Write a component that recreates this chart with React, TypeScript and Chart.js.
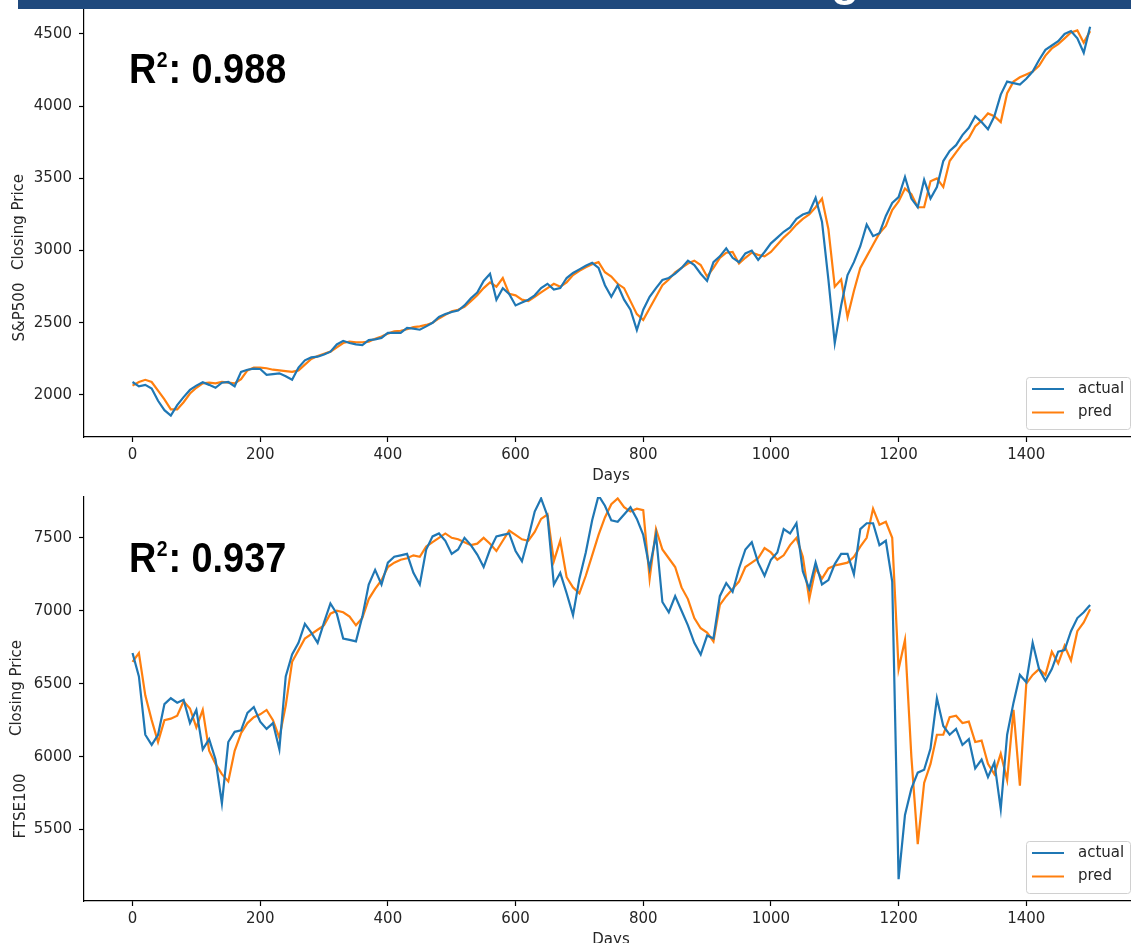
import React, { useEffect, useRef } from 'react';
import { Chart, registerables } from 'chart.js';

Chart.register(...registerables);

// ---------------- data ----------------
const DAYS = [
  0, 10, 20, 30, 40, 50, 60, 70, 80, 90,
  100, 110, 120, 130, 140, 150, 160, 170, 180, 190,
  200, 210, 220, 230, 240, 250, 260, 270, 280, 290,
  300, 310, 320, 330, 340, 350, 360, 370, 380, 390,
  400, 410, 420, 430, 440, 450, 460, 470, 480, 490,
  500, 510, 520, 530, 540, 550, 560, 570, 580, 590,
  600, 610, 620, 630, 640, 650, 660, 670, 680, 690,
  700, 710, 720, 730, 740, 750, 760, 770, 780, 790,
  800, 810, 820, 830, 840, 850, 860, 870, 880, 890,
  900, 910, 920, 930, 940, 950, 960, 970, 980, 990,
  1000, 1010, 1020, 1030, 1040, 1050, 1060, 1070, 1080, 1090,
  1100, 1110, 1120, 1130, 1140, 1150, 1160, 1170, 1180, 1190,
  1200, 1210, 1220, 1230, 1240, 1250, 1260, 1270, 1280, 1290,
  1300, 1310, 1320, 1330, 1340, 1350, 1360, 1370, 1380, 1390,
  1400, 1410, 1420, 1430, 1440, 1450, 1460, 1470, 1480, 1490,
  1500,
];

const SP_ACTUAL = [
  2090, 2060, 2070, 2045, 1960, 1895, 1858, 1930, 1985, 2035,
  2065, 2088, 2070, 2050, 2085, 2090, 2060, 2160, 2175, 2182,
  2180, 2140, 2145, 2150, 2130, 2105, 2190, 2240, 2260, 2265,
  2280, 2300, 2350, 2375, 2360, 2350, 2345, 2380, 2385, 2395,
  2430, 2430, 2430, 2465, 2460, 2452, 2475, 2500, 2540, 2560,
  2575, 2585, 2620, 2670, 2710, 2790, 2840, 2660, 2740, 2700,
  2620, 2640, 2660, 2690, 2740, 2770, 2730, 2740, 2810, 2845,
  2870, 2895, 2915, 2880, 2760, 2680, 2760, 2660, 2590, 2450,
  2590, 2680, 2740, 2796, 2810, 2840, 2880, 2930, 2900, 2840,
  2790, 2920, 2960, 3015, 2950, 2920, 2980, 3000, 2935, 2990,
  3050, 3090, 3130, 3160, 3220, 3250, 3265, 3365, 3200, 2800,
  2360, 2620, 2830, 2920, 3030, 3180, 3100, 3120, 3240, 3330,
  3370, 3510, 3360, 3300, 3490, 3360, 3440, 3620, 3690, 3730,
  3800, 3850, 3930, 3890, 3840, 3930, 4080, 4170, 4160, 4150,
  4190, 4240, 4320, 4390, 4420, 4450, 4500, 4520, 4470, 4370,
  4550,
];

const SP_PRED = [
  2065, 2090, 2105, 2090, 2030, 1970, 1900, 1900, 1950, 2010,
  2050, 2080, 2085, 2080, 2090, 2085, 2080, 2110, 2170, 2190,
  2190, 2185, 2175, 2170, 2165, 2160, 2170, 2210, 2250, 2270,
  2285, 2300, 2330, 2360, 2370, 2365, 2365, 2370, 2390, 2405,
  2425, 2440, 2445, 2455, 2470, 2475, 2485, 2500, 2530, 2555,
  2580, 2590, 2610, 2650, 2690, 2740, 2780, 2750, 2810, 2700,
  2690, 2660, 2650, 2680, 2710, 2740, 2770, 2750, 2780, 2830,
  2860, 2885, 2905, 2920, 2850, 2820, 2770, 2740, 2650, 2560,
  2520, 2600, 2680, 2760, 2800, 2850, 2880, 2910, 2930, 2900,
  2820, 2880, 2950, 2985, 2990, 2910, 2950, 2985, 2970, 2960,
  2990, 3040, 3090, 3130, 3180, 3220, 3250, 3300, 3360, 3150,
  2750, 2800, 2540, 2720, 2880, 2960, 3040, 3120, 3170, 3280,
  3340, 3430, 3390, 3300, 3300, 3480, 3500, 3440, 3620, 3680,
  3740, 3780, 3860, 3900, 3950, 3930, 3890, 4090, 4170, 4200,
  4220, 4240, 4280, 4350, 4400, 4430, 4470, 4510, 4525, 4440,
  4520,
];

const FTSE_ACTUAL = [
  6710, 6550, 6150, 6080, 6150, 6360, 6400, 6370, 6390, 6230,
  6320, 6050, 6120, 5980, 5680, 6100, 6170, 6180, 6300, 6340,
  6240, 6190, 6230, 6050, 6550, 6700, 6780, 6910, 6850, 6780,
  6920, 7050, 6980, 6810, 6800, 6790, 6960, 7180, 7280, 7180,
  7330, 7370, 7380, 7390, 7260, 7180, 7420, 7510, 7530, 7480,
  7390, 7420, 7500, 7450, 7385, 7300, 7420, 7510, 7520, 7530,
  7410, 7340, 7500, 7680, 7770, 7650, 7180, 7260, 7120, 6970,
  7220, 7400, 7620, 7790, 7720, 7620, 7610, 7660, 7710, 7630,
  7520, 7290, 7520, 7060, 6990, 7100, 7000, 6900, 6780, 6700,
  6830, 6810, 7100, 7190, 7130, 7290, 7420, 7470, 7330, 7240,
  7350, 7400, 7560, 7530, 7600, 7270, 7150, 7330, 7180, 7210,
  7320, 7390, 7390, 7250, 7560, 7600, 7600, 7450, 7480, 7200,
  5160, 5600, 5780, 5890, 5910, 6055, 6400, 6210, 6150, 6190,
  6080, 6120, 5920, 5980, 5860, 5960, 5640, 6150, 6370, 6560,
  6510, 6780, 6600, 6520, 6600, 6720, 6730, 6860, 6950, 6990,
  7040,
];

const FTSE_PRED = [
  6650, 6710, 6420, 6250, 6100, 6250, 6260, 6280, 6380, 6330,
  6200, 6320, 6040, 5950, 5880, 5830, 6040, 6160, 6230, 6270,
  6290, 6320, 6250, 6130, 6350, 6650, 6730, 6810, 6840, 6870,
  6900, 6980, 7000, 6990, 6960, 6900, 6950, 7080, 7150, 7210,
  7300, 7330, 7350, 7360, 7380, 7370, 7440, 7470, 7500, 7530,
  7500, 7490, 7470, 7450, 7460, 7500, 7460, 7410, 7480, 7550,
  7520, 7490, 7480, 7540, 7630, 7660, 7340, 7480, 7230, 7160,
  7120, 7240, 7380, 7520, 7640, 7730, 7770, 7710, 7680, 7700,
  7690, 7220, 7560, 7420, 7360, 7300, 7160, 7080, 6950, 6880,
  6850, 6790, 7040, 7100, 7150, 7200, 7300, 7330, 7360, 7430,
  7400, 7350, 7380, 7450, 7500, 7370, 7080, 7290, 7220, 7290,
  7310, 7320, 7330, 7370, 7440, 7500, 7700, 7590, 7610, 7500,
  6600, 6800, 6000, 5400, 5820, 5950, 6150, 6150, 6270, 6280,
  6230, 6240, 6100, 6110, 5950, 5880, 6020, 5840, 6320, 5800,
  6500, 6560, 6600, 6560, 6720, 6640, 6760, 6660, 6860, 6920,
  7010,
];

const X_TICKS = [0, 200, 400, 600, 800, 1000, 1200, 1400];
const SP_Y_TICKS = [2000, 2500, 3000, 3500, 4000, 4500];
const FTSE_Y_TICKS = [5500, 6000, 6500, 7000, 7500];
const SERIES_NAMES = ['actual', 'pred'];
const SERIES_COLORS = ['#1f77b4', '#ff7f0e'];

const TICK_FONT = '"DejaVu Sans", "Liberation Sans", sans-serif';
const TEXT_COLOR = '#262626';

type PanelCfg = {
  actual: number[];
  pred: number[];
  yTicks: number[];
  yMin: number;
  yMax: number;
  yLabels: { text: string; x: number; y: number }[];
  r2: string;
  r2Baseline: number;
  padTop: number;
  height: number;
  banner: boolean;
};

function drawR2(ctx: CanvasRenderingContext2D, x: number, baseline: number, value: string) {
  ctx.save();
  ctx.translate(x, baseline);
  ctx.scale(0.88, 1);
  ctx.fillStyle = '#000';
  ctx.textAlign = 'left';
  ctx.textBaseline = 'alphabetic';
  ctx.font = 'bold 43px "Liberation Sans", Arial, sans-serif';
  ctx.fillText('R', 0, 0);
  let cx = ctx.measureText('R').width;
  ctx.font = 'bold 22px "Liberation Sans", Arial, sans-serif';
  ctx.fillText('2', cx + 0.5, -16);
  cx += ctx.measureText('2').width + 1.5;
  ctx.font = 'bold 43px "Liberation Sans", Arial, sans-serif';
  ctx.fillText(': ' + value, cx, 0);
  ctx.restore();
}

function makeOverlay(cfg: PanelCfg) {
  return {
    id: 'overlay',
    afterDraw(chart: any) {
      const ctx: CanvasRenderingContext2D = chart.ctx;
      const ca = chart.chartArea;
      ctx.save();
      // rotated y labels
      ctx.font = `15px ${TICK_FONT}`;
      ctx.fillStyle = TEXT_COLOR;
      ctx.textAlign = 'center';
      ctx.textBaseline = 'middle';
      cfg.yLabels.forEach((l) => {
        ctx.save();
        ctx.translate(l.x, l.y);
        ctx.rotate(-Math.PI / 2);
        ctx.fillText(l.text, 0, 0);
        ctx.restore();
      });
      // R^2 annotation
      drawR2(ctx, 129, cfg.r2Baseline, cfg.r2);
      // legend
      const bw = 104;
      const bh = 52;
      const bx = ca.right - 8 - bw;
      const by = ca.bottom - 8 - bh;
      ctx.beginPath();
      (ctx as any).roundRect(bx + 0.5, by + 0.5, bw, bh, 3);
      ctx.fillStyle = 'rgba(255,255,255,0.85)';
      ctx.fill();
      ctx.strokeStyle = '#d0d0d0';
      ctx.lineWidth = 1;
      ctx.stroke();
      SERIES_NAMES.forEach((name, i) => {
        const ly = by + 12 + i * 23.5;
        ctx.beginPath();
        ctx.moveTo(bx + 6, ly);
        ctx.lineTo(bx + 38, ly);
        ctx.strokeStyle = SERIES_COLORS[i];
        ctx.lineWidth = 2;
        ctx.stroke();
        ctx.fillStyle = TEXT_COLOR;
        ctx.font = `15px ${TICK_FONT}`;
        ctx.textAlign = 'left';
        ctx.textBaseline = 'middle';
        ctx.fillText(name, bx + 52, ly);
      });
      // banner
      if (cfg.banner) {
        ctx.fillStyle = '#1f497d';
        ctx.fillRect(18, 0, chart.width, 9);
        ctx.fillStyle = '#ffffff';
        ctx.font = 'bold 46px "Liberation Sans", Arial, sans-serif';
        ctx.textAlign = 'left';
        ctx.textBaseline = 'alphabetic';
        ctx.save();
        ctx.beginPath();
        ctx.rect(18, 0, chart.width, 9);
        ctx.clip();
        ctx.fillText('g', 831, -5);
        ctx.restore();
      }
      ctx.restore();
    },
  };
}

function buildConfig(cfg: PanelCfg): any {
  const mk = (vals: number[]) => DAYS.map((d, i) => ({ x: d, y: vals[i] }));
  return {
    type: 'line',
    data: {
      datasets: [
        {
          label: SERIES_NAMES[0],
          data: mk(cfg.actual),
          borderColor: SERIES_COLORS[0],
          backgroundColor: SERIES_COLORS[0],
          borderWidth: 2.2,
          pointRadius: 0,
          tension: 0,
        },
        {
          label: SERIES_NAMES[1],
          data: mk(cfg.pred),
          borderColor: SERIES_COLORS[1],
          backgroundColor: SERIES_COLORS[1],
          borderWidth: 2.2,
          pointRadius: 0,
          tension: 0,
        },
      ],
    },
    options: {
      responsive: false,
      animation: false,
      devicePixelRatio: 1,
      layout: { padding: { top: cfg.padTop, right: 8, bottom: 0, left: 0 } },
      plugins: { legend: { display: false }, tooltip: { enabled: false }, title: { display: false } },
      scales: {
        x: {
          type: 'linear',
          min: -76,
          max: 1575,
          afterBuildTicks: (s: any) => {
            s.ticks = X_TICKS.map((v) => ({ value: v }));
          },
          afterFit: (s: any) => {
            s.height = 48;
            s.paddingLeft = 0;
            s.paddingRight = 0;
          },
          grid: { display: true, drawOnChartArea: false, drawTicks: true, tickLength: 5, tickWidth: 1.2, tickColor: '#000' },
          border: { display: true, color: '#000', width: 1.2 },
          ticks: {
            font: { family: TICK_FONT, size: 15 },
            color: TEXT_COLOR,
            padding: 4,
            maxRotation: 0,
            autoSkip: false,
            callback: (v: any) => String(v),
          },
          title: {
            display: true,
            text: 'Days',
            font: { family: TICK_FONT, size: 15 },
            color: TEXT_COLOR,
            padding: 0,
          },
        },
        y: {
          type: 'linear',
          min: cfg.yMin,
          max: cfg.yMax,
          afterBuildTicks: (s: any) => {
            s.ticks = cfg.yTicks.map((v) => ({ value: v }));
          },
          afterFit: (s: any) => {
            s.width = 84;
            s.paddingTop = 0;
            s.paddingBottom = 0;
          },
          grid: { display: true, drawOnChartArea: false, drawTicks: true, tickLength: 5, tickWidth: 1.2, tickColor: '#000' },
          border: { display: true, color: '#000', width: 1.2 },
          ticks: {
            font: { family: TICK_FONT, size: 15 },
            color: TEXT_COLOR,
            padding: 7,
            autoSkip: false,
            callback: (v: any) => String(v),
          },
        },
      },
    },
    plugins: [makeOverlay(cfg)],
  };
}

const TOP_CFG: PanelCfg = {
  actual: SP_ACTUAL,
  pred: SP_PRED,
  yTicks: SP_Y_TICKS,
  yMin: 1709,
  yMax: 4673,
  yLabels: [
    { text: 'Closing Price', x: 19, y: 222 },
    { text: 'S&P500', x: 20, y: 312 },
  ],
  r2: '0.988',
  r2Baseline: 83,
  padTop: 9,
  height: 485,
  banner: true,
};

const BOTTOM_CFG: PanelCfg = {
  actual: FTSE_ACTUAL,
  pred: FTSE_PRED,
  yTicks: FTSE_Y_TICKS,
  yMin: 5010,
  yMax: 7780,
  yLabels: [
    { text: 'Closing Price', x: 17, y: 201 },
    { text: 'FTSE100', x: 21, y: 319 },
  ],
  r2: '0.937',
  r2Baseline: 85,
  padTop: 10,
  height: 462,
  banner: false,
};

function Panel({ cfg, top }: { cfg: PanelCfg; top: number }) {
  const ref = useRef<HTMLCanvasElement | null>(null);
  useEffect(() => {
    if (!ref.current) return;
    const chart = new Chart(ref.current, buildConfig(cfg));
    return () => chart.destroy();
  }, [cfg]);
  return (
    <canvas
      ref={ref}
      width={1146}
      height={cfg.height}
      style={{ position: 'absolute', left: 0, top, width: 1146, height: cfg.height, display: 'block' }}
    />
  );
}

export default function App() {
  return (
    <div
      style={{
        position: 'absolute',
        left: 0,
        top: 0,
        width: 1131,
        height: 943,
        overflow: 'hidden',
        background: '#ffffff',
      }}
    >
      <Panel cfg={BOTTOM_CFG} top={487} />
      <Panel cfg={TOP_CFG} top={0} />
    </div>
  );
}
